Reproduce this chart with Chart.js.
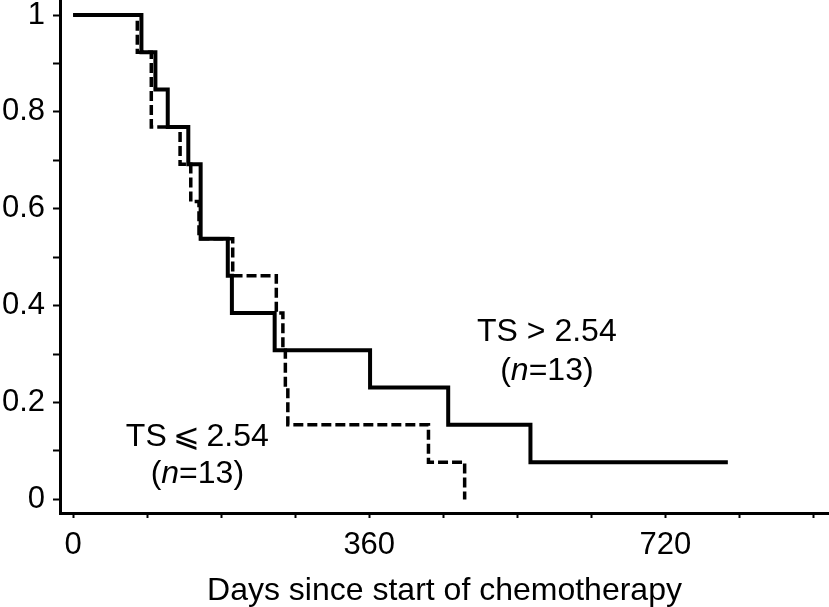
<!DOCTYPE html>
<html>
<head>
<meta charset="utf-8">
<script src="https://cdn.jsdelivr.net/npm/chart.js@4"></script>
<style>
  body { margin: 0; background: #fff; }
  #kmChart { display: block; }
</style>
</head>
<body>
<canvas id="kmChart" width="829" height="607"></canvas>
<script>
// Kaplan-Meier steps (days, survival)
const highDays = [0, 83, 100, 115, 140, 155, 188, 193, 245, 361, 456, 556, 796];
const highSurv = [1, 0.923, 0.846, 0.769, 0.692, 0.538, 0.462, 0.385, 0.308, 0.231, 0.154, 0.077, 0.077];
const lowDays = [0, 78, 95, 130, 143, 153, 194, 247, 255, 258, 261, 432, 476];
const lowSurv = [1, 0.923, 0.769, 0.692, 0.615, 0.538, 0.462, 0.385, 0.308, 0.231, 0.154, 0.077, 0];

const xLabels = [0, 360, 720];
const yLabels = [0, 0.2, 0.4, 0.6, 0.8, 1];
const xTitle = 'Days since start of chemotherapy';

const groupNames = ['TS > 2.54', 'TS\u2009\u2A7D\u20092.54'];
const groupN = [13, 13];
// where the group labels sit, in data units (day, survival at baseline)
const labelSpots = [
    { x: 576, y1: 0.327, y2: 0.246 },
    { x: 151, y1: 0.110, y2: 0.034 }
];

const FONT = '"Liberation Sans", Arial, Helvetica, sans-serif';

function toPoints(days, surv) {
    return days.map((d, i) => ({ x: d, y: surv[i] }));
}

// draws the "TS ..." and "(n=13)" captions
const groupLabels = {
    id: 'groupLabels',
    afterDatasetsDraw(chart) {
        const { ctx, scales } = chart;
        ctx.save();
        ctx.fillStyle = '#000';
        ctx.textBaseline = 'alphabetic';
        labelSpots.forEach((spot, i) => {
            const cx = scales.x.getPixelForValue(spot.x);
            ctx.font = '32px ' + FONT;
            ctx.textAlign = 'center';
            ctx.fillText(groupNames[i], cx, scales.y.getPixelForValue(spot.y1));

            // (n=13) with italic n
            const y2 = scales.y.getPixelForValue(spot.y2);
            const parts = [['(', false], ['n', true], ['=' + groupN[i] + ')', false]];
            let total = 0;
            parts.forEach(p => {
                ctx.font = (p[1] ? 'italic ' : '') + '32px ' + FONT;
                p.push(ctx.measureText(p[0]).width);
                total += p[2];
            });
            let x = cx - total / 2;
            ctx.textAlign = 'left';
            parts.forEach(p => {
                ctx.font = (p[1] ? 'italic ' : '') + '32px ' + FONT;
                ctx.fillText(p[0], x, y2);
                x += p[2];
            });
        });
        ctx.restore();
    }
};

const ctx = document.getElementById('kmChart').getContext('2d');
const kmChart = new Chart(ctx, {
    type: 'line',
    data: {
        datasets: [
            {
                label: groupNames[0],
                data: toPoints(highDays, highSurv),
                borderColor: '#000',
                borderWidth: 4,
                stepped: 'before',
                pointRadius: 0,
                fill: false
            },
            {
                label: groupNames[1],
                data: toPoints(lowDays, lowSurv),
                borderColor: '#000',
                borderWidth: 3.5,
                borderDash: [10, 4],
                stepped: 'before',
                pointRadius: 0,
                fill: false
            }
        ]
    },
    options: {
        responsive: false,
        animation: false,
        devicePixelRatio: 1,
        layout: { padding: 0 },
        plugins: {
            legend: { display: false },
            tooltip: { enabled: false }
        },
        scales: {
            x: {
                type: 'linear',
                min: -16,
                max: 919,
                afterFit: s => {
                    s.height = 94;
                    s.paddingLeft = 0;
                    s.paddingRight = 0;
                },
                border: { display: true, color: '#000', width: 3 },
                grid: { drawOnChartArea: false, drawTicks: true, tickLength: 5, tickColor: '#000', tickWidth: 2 },
                ticks: {
                    stepSize: 90,
                    includeBounds: false,
                    autoSkip: false,
                    maxRotation: 0,
                    padding: 9,
                    color: '#000',
                    font: { family: FONT, size: 31 },
                    callback: v => xLabels.includes(v) ? String(v) : ''
                },
                title: {
                    display: true,
                    text: xTitle,
                    color: '#000',
                    font: { family: FONT, size: 32 },
                    padding: { top: 0, bottom: -3 }
                }
            },
            y: {
                min: -0.028,
                max: 1.031,
                afterFit: s => {
                    s.width = 60;
                    s.paddingTop = 0;
                    s.paddingBottom = 0;
                },
                border: { display: true, color: '#000', width: 3 },
                grid: { drawOnChartArea: false, drawTicks: true, tickLength: 7, tickColor: '#000', tickWidth: 2 },
                ticks: {
                    stepSize: 0.1,
                    includeBounds: false,
                    autoSkip: false,
                    padding: 8,
                    color: '#000',
                    font: { family: FONT, size: 31 },
                    callback: v => {
                        const r = Math.round(v * 10) / 10;
                        return yLabels.includes(r) ? String(r) : '';
                    }
                }
            }
        }
    },
    plugins: [groupLabels]
});
</script>
</body>
</html>
